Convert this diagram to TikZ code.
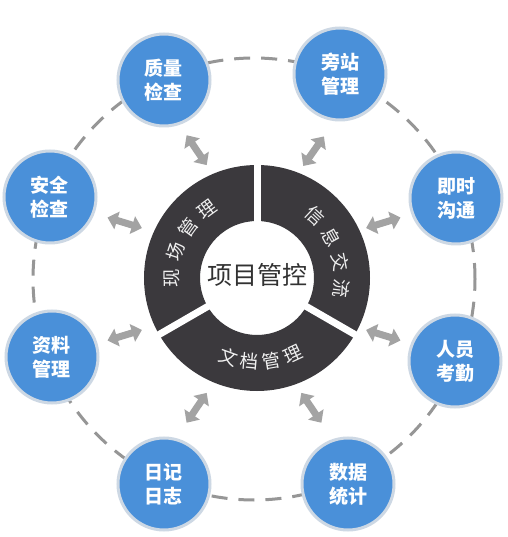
\documentclass[tikz,border=0pt]{standalone}
\usepackage{fontspec}
\newfontfamily\cjk{Noto Sans CJK SC}
\usetikzlibrary{arrows.meta,calc}
\definecolor{cblue}{RGB}{74,144,217}
\definecolor{cborder}{RGB}{205,216,228}
\definecolor{cdark}{RGB}{59,57,61}
\definecolor{cgray}{RGB}{163,163,163}
\definecolor{cdash}{RGB}{150,150,150}
\definecolor{ctext}{RGB}{50,50,50}
\begin{document}
\begin{tikzpicture}[x=1pt,y=1pt,
  topic/.style={circle,fill=cblue,draw=cborder,line width=3pt,minimum size=92pt,inner sep=0pt,align=center,text=white,font=\cjk\bfseries\fontsize{19}{24}\selectfont},
  ringchar/.style={text=white!94!black,font=\cjk\fontsize{18.5}{18.5}\selectfont,inner sep=0pt},
  dblarrow/.style={cgray,line width=7pt,{Triangle[length=10pt,width=18pt]}-{Triangle[length=10pt,width=18pt]}},
  orbit/.style={cdash,line width=3pt,dash pattern=on 16pt off 11pt}
]
\useasboundingbox (-254,-258) rectangle (253,279);
\fill[white] (-254,-258) rectangle (253,279);
\coordinate (O) at (0,0);
\draw[orbit] (O) circle[radius=221];
% ring
\coordinate (R) at (3,1);
\fill[cdark,even odd rule] (R) circle[radius=113] (R) circle[radius=57];
\foreach \a in {90,210,330}
  \draw[white,line width=7pt] ($(R)+(\a:50)$) -- ($(R)+(\a:120)$);
\node[font=\cjk\fontsize{25}{25}\selectfont,text=ctext,inner sep=0pt] (ctr) at ($(R)+(0,3)$) {项目管控};
% ring texts
\foreach \c/\t [count=\i] in {现/180,场/162,管/144,理/126}
  \node[ringchar,rotate=\t-90] (l\i) at ($(R)+(\t:85)$) {\c};
\foreach \c/\t [count=\i] in {信/47,息/29,交/11,流/-7}
  \node[ringchar,rotate=\t-90] (r\i) at ($(R)+(\t:85)$) {\c};
\foreach \c/\t [count=\i] in {文/250,档/265,管/280,理/295}
  \node[ringchar,rotate=\t+90] (b\i) at ($(R)+(\t:84)$) {\c};
% arrows
\foreach \m/\d [count=\i] in {65/55,114/124,156.5/163,-156.5/-163,-114/-124,-66/-56,-23.5/-17,23.5/17}{
  \path (\m:141) ++(\d:-18) coordinate (as\i) ++(\d:36) coordinate (ae\i);
  \draw[dblarrow] (as\i) -- (ae\i);
}
% topic circles
\node[topic] (zl) at (-90,199) {质量\\检查};
\node[topic] (pz) at (86,205) {旁站\\管理};
\node[topic] (js) at (202,81) {即时\\沟通};
\node[topic] (ry) at (201,-82) {人员\\考勤};
\node[topic] (sj) at (94,-205) {数据\\统计};
\node[topic] (rj) at (-90,-205) {日记\\日志};
\node[topic] (zg) at (-202,-78) {资料\\管理};
\node[topic] (aq) at (-204,82) {安全\\检查};
\end{tikzpicture}
\end{document}
